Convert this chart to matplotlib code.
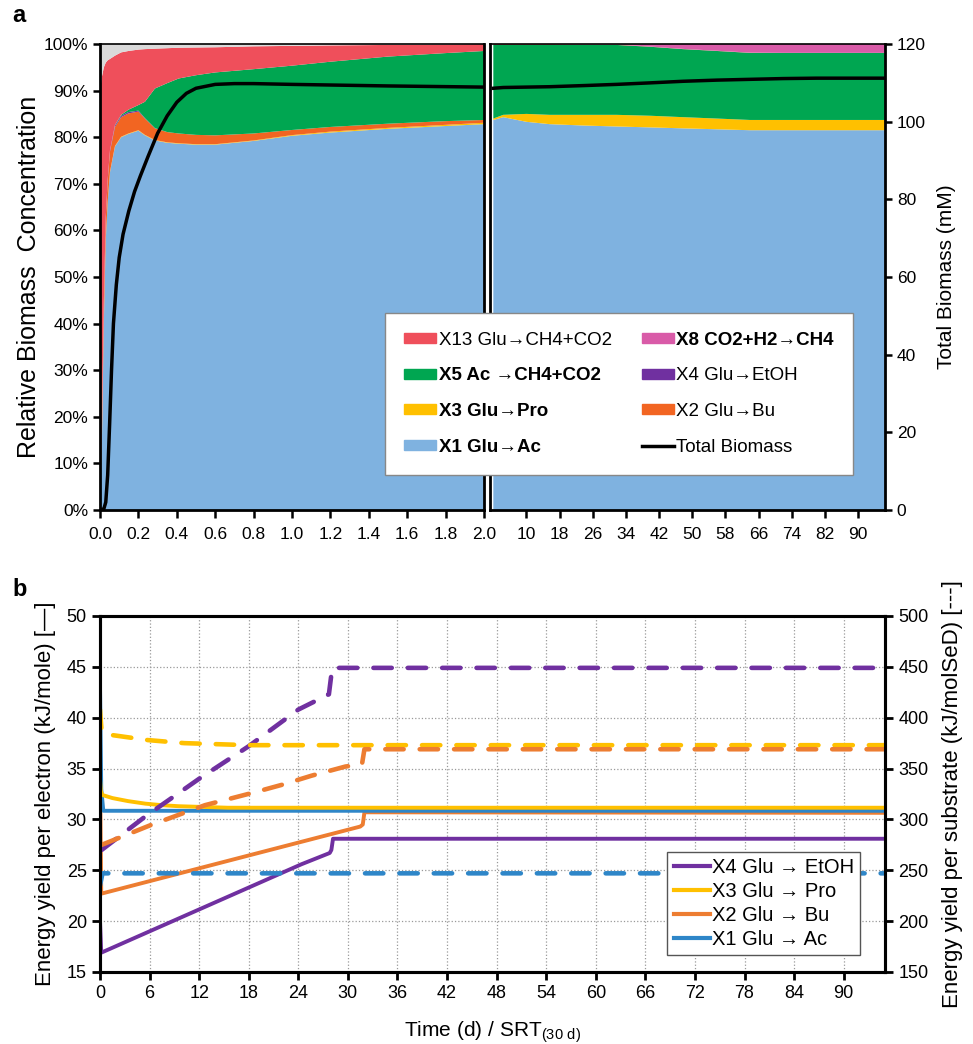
import numpy as np
import matplotlib
matplotlib.use("Agg")
import matplotlib.pyplot as plt
from matplotlib.patches import Patch
from matplotlib.lines import Line2D
from matplotlib.ticker import FuncFormatter

plt.rcParams['font.family'] = ['Liberation Sans', 'DejaVu Sans']

# ---------------- panel a data (relative biomass, %) ----------------
t_left = [0, 0.01, 0.02, 0.03, 0.04, 0.052, 0.078, 0.11, 0.148, 0.2, 0.234, 0.286,
          0.35, 0.41, 0.5, 0.6, 0.8, 1.0, 1.2, 1.5, 1.8, 2.0]
x1_left = [2, 15, 40, 58, 66, 72.5, 78, 80, 80.7, 81.4, 80.4, 79.3,
           78.8, 78.6, 78.4, 78.4, 79.2, 80.3, 81.0, 81.8, 82.4, 82.8]
x3_left = [0.5, 0.5, 0.3, 0.2, 0.1, 0.1, 0.1, 0.1, 0.1, 0.1, 0.1, 0.1,
           0.1, 0.1, 0.1, 0.1, 0.1, 0.15, 0.2, 0.2, 0.25, 0.3]
x2_left = [1, 3, 4, 4.5, 4.5, 4.3, 4.1, 4.2, 4.3, 4.0, 3.5, 2.5,
           2.2, 2.1, 2.0, 1.9, 1.5, 1.1, 1.0, 0.9, 0.8, 0.6]
x4_left = [0, 0, 0.1, 0.2, 0.3, 0.3, 0.3, 0.3, 0.3, 0.2, 0.1, 0.05,
           0, 0, 0, 0, 0, 0, 0, 0, 0, 0]
x5_left = [0, 0, 0, 0, 0, 0, 0.1, 0.2, 0.5, 1.2, 3.5, 8.5,
           10.5, 11.8, 12.8, 13.5, 13.8, 13.8, 14.0, 14.4, 14.6, 14.8]
x13_left = [86.5, 74.5, 50.6, 33.1, 25.6, 19.6, 14.9, 13.4, 12.6, 11.9, 11.3, 8.55,
            7.5, 6.6, 5.95, 5.4, 4.9, 4.25, 3.5, 2.5, 1.85, 1.5]
x8_left = [0] * 22
other_left = [10, 7, 5, 4, 3.5, 3.2, 2.5, 1.8, 1.5, 1.2, 1.1, 1.0,
              0.9, 0.8, 0.75, 0.7, 0.5, 0.4, 0.3, 0.2, 0.1, 0.0]

t_total_left = [0, 0.02, 0.03, 0.04, 0.05, 0.06, 0.07, 0.085, 0.1, 0.12, 0.15, 0.18,
                0.21, 0.25, 0.3, 0.35, 0.4, 0.45, 0.5, 0.6, 0.7, 0.8, 1.0, 1.5, 2.0]
total_left = [0, 0.3, 2, 9, 22, 36, 48, 58, 65, 71, 77, 82,
              86, 91, 97, 101.5, 105, 107.3, 108.6, 109.6, 109.8, 109.8, 109.6, 109.2, 108.9]

t_right = [2, 4.4, 10, 15.6, 24, 31.7, 40, 47.8, 56, 63.9, 72, 80, 88, 96.5]
x1_right = [83.7, 84.3, 83.3, 82.8, 82.5, 82.3, 82.1, 81.9, 81.7, 81.5, 81.5, 81.5, 81.5, 81.5]
x3_right = [0.3, 0.5, 1.7, 2.0, 2.3, 2.5, 2.5, 2.4, 2.3, 2.2, 2.2, 2.2, 2.2, 2.2]
x2_right = [0] * 14
x4_right = [0] * 14
x5_right = [15.8, 15.0, 14.8, 15.0, 15.0, 15.0, 14.8, 14.6, 14.5, 14.4, 14.4, 14.4, 14.4, 14.4]
x13_right = [0.2, 0.2, 0.2, 0.2, 0.1, 0.1, 0.05, 0.05, 0.05, 0.05, 0, 0, 0, 0]
x8_right = [0, 0, 0, 0, 0.1, 0.1, 0.55, 1.05, 1.45, 1.85, 1.9, 1.9, 1.9, 1.9]
other_right = [0] * 14
total_right = [108.6, 108.8, 108.9, 109.0, 109.3, 109.6, 110.0, 110.4, 110.7, 110.9,
               111.1, 111.2, 111.2, 111.2]

left_ticks = [0.0, 0.2, 0.4, 0.6, 0.8, 1.0, 1.2, 1.4, 1.6, 1.8, 2.0]
right_ticks = [10, 18, 26, 34, 42, 50, 58, 66, 74, 82, 90]

names_a = ['X13 Glu\u2192CH4+CO2', 'X5 Ac \u2192CH4+CO2', 'X3 Glu\u2192Pro', 'X1 Glu\u2192Ac',
           'X8 CO2+H2\u2192CH4', 'X4 Glu\u2192EtOH', 'X2 Glu\u2192Bu', 'Total Biomass']
bold_a = [False, True, True, True, True, False, False, False]

# ---------------- panel b data ----------------
x4_sol_t = [0, 0.15, 24.4, 27.8, 28.0, 28.2, 95]
x4_sol_v = [20.0, 16.9, 25.6, 26.7, 27.0, 28.1, 28.1]
x3_sol_t = [0, 0.1, 0.3, 1.5, 3.4, 5.5, 7.5, 9.5, 11.5, 15.5, 95]
x3_sol_v = [34.0, 32.8, 32.4, 32.1, 31.8, 31.55, 31.4, 31.3, 31.25, 31.15, 31.15]
x2_sol_t = [0, 0.15, 31.5, 31.8, 32.0, 95]
x2_sol_v = [34.5, 22.7, 29.3, 29.5, 30.7, 30.65]
x1_sol_t = [0, 0.15, 0.4, 95]
x1_sol_v = [43.2, 33.0, 30.85, 30.85]

x4_das_t = [0.2, 5.5, 12, 18, 24, 27.7, 28.1, 95]
x4_das_v = [270, 303, 340, 372, 408, 423, 449, 449]
x3_das_t = [0, 0.2, 1.4, 5.8, 10.2, 18, 95]
x3_das_v = [408, 386, 383, 378, 375, 373, 373]
x2_das_t = [0.2, 6, 12.7, 18.4, 22, 25.6, 29.7, 31.7, 32, 95]
x2_das_v = [275, 294, 314, 326, 334, 343, 352, 354, 369, 369]
x1_das_t = [0, 0.3, 95]
x1_das_v = [235, 247, 247]

names_b = ['X4 Glu \u2192 EtOH', 'X3 Glu \u2192 Pro', 'X2 Glu \u2192 Bu', 'X1 Glu \u2192 Ac']

# colours
c_x1a, c_x3, c_x2, c_x4 = '#7FB2E0', '#FFC000', '#F26522', '#7030A0'
c_x5, c_x13, c_x8, c_oth = '#00A651', '#EF4F5B', '#D95BA8', '#DADADA'
c_x1b, c_x2b = '#2E86C8', '#ED7D31'
stack_cols = [c_x1a, c_x3, c_x2, c_x4, c_x5, c_x13, c_x8, c_oth]

fig = plt.figure(figsize=(9.73, 10.44), dpi=100)
W, H = 973.0, 1044.0

# ================= panel a =================
axL = fig.add_axes([100 / W, 1 - 510 / H, 384 / W, 466 / H])
axR = fig.add_axes([490 / W, 1 - 510 / H, 395 / W, 466 / H])

axL.stackplot(t_left, x1_left, x3_left, x2_left, x4_left, x5_left, x13_left, x8_left,
              other_left, colors=stack_cols, linewidth=0)
axR.stackplot(t_right, x1_right, x3_right, x2_right, x4_right, x5_right, x13_right, x8_right,
              other_right, colors=stack_cols, linewidth=0)

axL.set_xlim(0, 2.0)
axR.set_xlim(1.2, 96.5)
for ax in (axL, axR):
    ax.set_ylim(0, 100)
    for s in ax.spines.values():
        s.set_linewidth(2)
    ax.spines['top'].set_linewidth(1.2)
    ax.tick_params(axis='x', direction='out', length=6, width=1.8, labelsize=12.5, pad=6)
    ax.set_axisbelow(False)

axL.set_xticks(left_ticks)
axL.set_xticklabels(['%.1f' % v for v in left_ticks])
axR.set_xticks(right_ticks)
axR.set_xticklabels([str(v) for v in right_ticks])

axL.set_yticks(np.arange(0, 101, 10))
axL.yaxis.set_major_formatter(FuncFormatter(lambda v, p: '%d%%' % v))
axL.tick_params(axis='y', direction='out', length=5, width=1.8, labelsize=12.5)
axL.set_ylabel('Relative Biomass  Concentration', fontsize=18, labelpad=2)
axR.set_yticks([])

axL2 = axL.twinx()
axL2.set_ylim(0, 120)
axL2.set_yticks([])
axL2.plot(t_total_left, total_left, color='black', lw=2.5)

axR2 = axR.twinx()
axR2.set_ylim(0, 120)
axR2.set_yticks(np.arange(0, 121, 20))
axR2.tick_params(axis='y', direction='out', length=5, width=1.8, labelsize=12.5)
axR2.plot(t_right, total_right, color='black', lw=2.5)
axR2.set_ylabel('Total Biomass (mM)', fontsize=15, labelpad=8)
for ax in (axL2, axR2):
    for s in ax.spines.values():
        s.set_visible(False)

handles_a = [Patch(color=c_x13), Patch(color=c_x5), Patch(color=c_x3), Patch(color=c_x1a),
             Patch(color=c_x8), Patch(color=c_x4), Patch(color=c_x2),
             Line2D([], [], color='black', lw=2.5)]
leg_a = fig.legend(handles_a, names_a, ncol=2, loc='lower right',
                   bbox_to_anchor=(862 / W, 1 - 484 / H), fontsize=13.5,
                   frameon=True, fancybox=False, edgecolor='#888888', framealpha=1,
                   handlelength=1.7, handleheight=0.45, handletextpad=0.15,
                   labelspacing=1.0, columnspacing=1.6, borderpad=1.0)
leg_a.get_frame().set_linewidth(1)
for txt, b in zip(leg_a.get_texts(), bold_a):
    if b:
        txt.set_fontweight('bold')

fig.text(12 / W, 1 - 16 / H, 'a', fontsize=17, fontweight='bold', va='center')

# ================= panel b =================
axb = fig.add_axes([100 / W, 1 - 972 / H, 785 / W, 356 / H])
axb2 = axb.twinx()

axb.set_xlim(0, 95)
axb.set_ylim(15, 50)
axb2.set_ylim(150, 500)
axb.set_xticks(np.arange(0, 91, 6))
axb.set_yticks(np.arange(15, 51, 5))
axb2.set_yticks(np.arange(150, 501, 50))
axb.grid(True, color='#999999', linestyle=':', linewidth=0.9)

dash_kw = dict(lw=3.3, dashes=(4, 3.5), dash_capstyle='round')
axb2.plot(x4_das_t, x4_das_v, color=c_x4, **dash_kw)
axb2.plot(x3_das_t, x3_das_v, color=c_x3, **dash_kw)
axb2.plot(x2_das_t, x2_das_v, color=c_x2b, **dash_kw)
axb2.plot(x1_das_t, x1_das_v, color=c_x1b, **dash_kw)

axb.plot(x2_sol_t, x2_sol_v, color=c_x2b, lw=2.8, zorder=3)
axb.plot(x1_sol_t, x1_sol_v, color=c_x1b, lw=2.8, zorder=3)
axb.plot(x3_sol_t, x3_sol_v, color=c_x3, lw=2.8, zorder=3)
axb.plot(x4_sol_t, x4_sol_v, color=c_x4, lw=2.8, zorder=3)

for ax in (axb, axb2):
    for s in ax.spines.values():
        s.set_linewidth(2.2)
axb.tick_params(direction='out', length=6, width=2, labelsize=13)
axb2.tick_params(direction='out', length=6, width=2, labelsize=13)
axb.set_ylabel('Energy yield per electron (kJ/mole) [\u2014]', fontsize=16, labelpad=8)
axb2.set_ylabel('Energy yield per substrate (kJ/molSeD) [---]', fontsize=16, labelpad=10)
axb.set_xlabel('Time (d) / SRT$_{\\mathregular{(30\\ d)}}$', fontsize=15, labelpad=12)

handles_b = [Line2D([], [], color=c, lw=3) for c in (c_x4, c_x3, c_x2b, c_x1b)]
leg_b = axb2.legend(handles_b, names_b, loc='lower right',
                    bbox_to_anchor=(870 / W, 1 - 965 / H), bbox_transform=fig.transFigure,
                    fontsize=14.5, frameon=True, fancybox=False, edgecolor='#555555',
                    framealpha=1, handlelength=1.8, handletextpad=0.1,
                    labelspacing=0.25, borderpad=0.3)
leg_b.get_frame().set_linewidth(1)

fig.text(12 / W, 1 - 589 / H, 'b', fontsize=17, fontweight='bold', va='center')

fig.savefig('out.png', dpi=100)
